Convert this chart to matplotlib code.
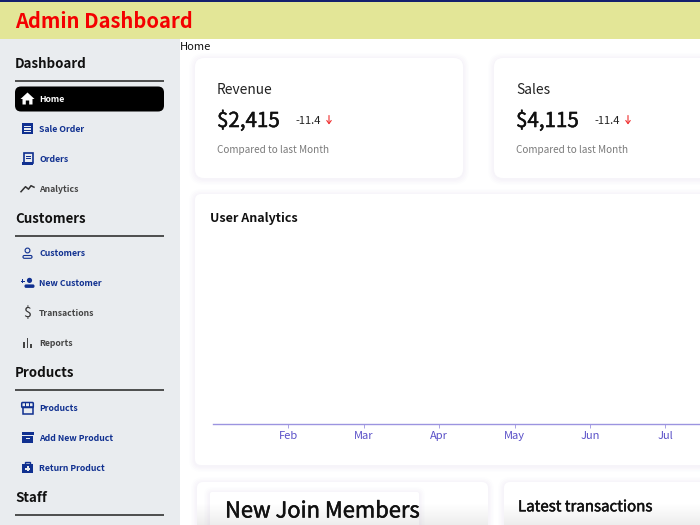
import matplotlib
matplotlib.use("Agg")
import matplotlib.pyplot as plt
import matplotlib.patheffects as pe
from matplotlib.patches import FancyBboxPatch, Rectangle, Polygon, Circle

months = ["Jan", "Feb", "Mar", "Apr", "May", "Jun", "Jul", "Aug"]
month_pos = [0, 1, 2, 3, 4, 5, 6, 7]
tick_pos = [1, 2, 3, 4, 5, 6]
tick_labels = ["Feb", "Mar", "Apr", "May", "Jun", "Jul"]
nav_groups = [
    ("Dashboard", ["Home", "Sale Order", "Orders", "Analytics"]),
    ("Customers", ["Customers", "New Customer", "Transactions", "Reports"]),
    ("Products", ["Products", "Add New Product", "Return Product"]),
    ("Staff", []),
]
grey_items = ["Analytics", "Transactions", "Reports"]
kpi_titles = ["Revenue", "Sales"]
kpi_values = ["$2,415", "$4,115"]
kpi_delta = ["-11.4", "-11.4"]

plt.rcParams["font.family"] = ["Noto Sans CJK SC", "DejaVu Sans"]
W, H = 700, 525
NAVY = "#103090"
fig = plt.figure(figsize=(7, 5.25), dpi=100, facecolor="white")
bg = fig.add_axes([0, 0, 1, 1])
bg.set_xlim(0, W); bg.set_ylim(H, 0); bg.axis("off")
MED = [pe.withStroke(linewidth=.35, foreground="#111111")]

def rect(x0, y0, x1, y1, c, z=1, a=1):
    bg.add_patch(Rectangle((x0, y0), x1 - x0, y1 - y0, fc=c, ec="none", zorder=z, alpha=a))

def card(x0, y0, x1, y1, r=9, z=2):
    for g, a in ((6, .008), (4.5, .01), (3, .012), (1.5, .014)):
        bg.add_patch(FancyBboxPatch((x0 - g, y0 - g + 1), x1 - x0 + 2 * g, y1 - y0 + 2 * g,
                                    boxstyle=f"round,pad=0,rounding_size={r+g}",
                                    fc="#6a4fa8", ec="none", alpha=a, zorder=z))
    bg.add_patch(FancyBboxPatch((x0, y0), x1 - x0, y1 - y0,
                                boxstyle=f"round,pad=0,rounding_size={r}",
                                fc="white", ec="none", zorder=z + .1))

# header and sidebar
rect(0, 0, W, 39, "#e3e697", 5)
rect(0, 0, W, 1.5, "#14206e", 6)
rect(0, 39, 179.5, H, "#e9ecef", 1)
bg.text(15, 22, "Admin Dashboard", color="#f40000", fontsize=14.5, fontweight="bold",
        va="center", ha="left", zorder=7)
bg.text(180, 46.8, "Home", color="#111111", fontsize=8, va="center", zorder=7)

# cards
card(195, 58, 463, 178)
card(494, 58, 760, 178)
card(195, 194, 760, 465, r=6)
card(197, 482, 488, 560, r=6)
card(504, 482, 760, 560, r=6)
card(210, 492, 419, 560, r=2, z=3)

# bottom fade
for i in range(22):
    rect(197, 503 + i, 488, 504 + i, "#808080", 4, .0065 * i)
    rect(504, 503 + i, 700, 504 + i, "#808080", 4, .0065 * i)

# KPI text
for x, t, v, d in zip((217, 516), kpi_titles, kpi_values, kpi_delta):
    bg.text(x, 90.3, t, fontsize=9.9, color="#222222", va="center", zorder=8)
    bg.text(x, 121, v, fontsize=14.8, color="#111111", va="center", zorder=8, path_effects=MED)
    bg.text(x + 78, 120.5, d, fontsize=8, color="#222222", va="center", zorder=8)
    bg.annotate("", xy=(x + 112, 124.5), xytext=(x + 112, 115.5), zorder=8,
                arrowprops=dict(arrowstyle="->,head_width=.16,head_length=.22", color="#f03030",
                                lw=.8, shrinkA=0, shrinkB=0))
    bg.text(x, 150.3, "Compared to last Month", fontsize=7.2, color="#7a7a7a", va="center", zorder=8)

bg.text(209.5, 218.8, "User Analytics", fontsize=9, fontweight="bold", color="#111111", va="center", zorder=8)
bg.text(225, 511.5, "New Join Members", fontsize=15.8, color="#111111", va="center", zorder=8, path_effects=MED)
bg.text(518, 506.8, "Latest transactions", fontsize=10.85, color="#111111", va="center", zorder=8, path_effects=MED)

# chart axis (no series drawn in the visible part)
ax = fig.add_axes([213 / W, 1 - 424.2 / H, (75.4 * 7) / W, 190 / H], zorder=6)
ax.patch.set_alpha(0)
ax.set_xlim(month_pos[0], month_pos[-1])
ax.set_ylim(0, 1)
for s in ("top", "left", "right"):
    ax.spines[s].set_visible(False)
ax.spines["bottom"].set_color("#9c94e0")
ax.spines["bottom"].set_linewidth(1)
ax.set_yticks([])
ax.set_xticks(tick_pos, tick_labels, fontsize=8, color="#5a50c8")
ax.tick_params(axis="x", length=3, width=.6, color="#9c94e0", pad=2)

# icons
def icon(name, cx, cy, c):
    if name == "Home":
        bg.add_patch(Polygon([(cx-7, cy), (cx, cy-6.5), (cx+7, cy), (cx+5, cy), (cx+5, cy+5.5),
                              (cx+1.7, cy+5.5), (cx+1.7, cy+1.5), (cx-1.7, cy+1.5), (cx-1.7, cy+5.5),
                              (cx-5, cy+5.5), (cx-5, cy)], fc="white", ec="none", zorder=9))
    elif name == "Sale Order":
        rect(cx-5.5, cy-5.5, cx+5.5, cy+5.5, c, 9)
        for dy in (-2.8, 0, 2.8):
            rect(cx-3.5, cy+dy-.6, cx+3.5, cy+dy+.6, "#e9ecef", 9.1)
    elif name == "Orders":
        bg.add_patch(Rectangle((cx-3.5, cy-6), 8.5, 10, fc="none", ec=c, lw=1.2, zorder=9))
        rect(cx-1.5, cy-3, cx+3, cy-2, c, 9); rect(cx-1.5, cy-.5, cx+3, cy+.5, c, 9)
        rect(cx-5.5, cy+3.5, cx+5, cy+6, c, 9)
    elif name == "Analytics":
        bg.plot([cx-6.5, cx-2, cx+1, cx+3.5, cx+6.5], [cy+3, cy-2, cy+.5, cy-3, cy-1.5],
                color="#333333", lw=1.1, zorder=9)
    elif name == "Customers":
        bg.add_patch(Circle((cx, cy-3), 2.4, fc="none", ec=c, lw=.8, zorder=9))
        bg.add_patch(FancyBboxPatch((cx-4.5, cy+2), 9, 2.8, boxstyle="round,pad=0,rounding_size=1.3",
                                    fc="none", ec=c, lw=.8, zorder=9))
    elif name == "New Customer":
        bg.add_patch(Circle((cx+2, cy-3), 2.6, fc=c, ec="none", zorder=9))
        bg.add_patch(FancyBboxPatch((cx-3, cy+1), 10, 3.5, boxstyle="round,pad=0,rounding_size=1.5",
                                    fc=c, ec="none", zorder=9))
        rect(cx-7, cy-2.5, cx-3, cy-1.6, c, 9); rect(cx-5.5, cy-4, cx-4.6, cy, c, 9)
    elif name == "Transactions":
        bg.text(cx, cy, "$", fontsize=10, color="#333333", ha="center", va="center", zorder=9)
    elif name == "Reports":
        for dx, h in ((-3.5, 6), (0, 10), (3.5, 4)):
            rect(cx+dx-.8, cy+5-h, cx+dx+.8, cy+5, "#444444", 9)
    elif name == "Products":
        bg.add_patch(Rectangle((cx-5, cy-1), 10, 6.5, fc="none", ec=c, lw=1.1, zorder=9))
        bg.add_patch(FancyBboxPatch((cx-5.8, cy-5.5), 11.6, 5, boxstyle="round,pad=0,rounding_size=1",
                                    fc="none", ec=c, lw=1.1, zorder=9))
        for dx in (-2, 2):
            rect(cx+dx-.4, cy-5.5, cx+dx+.4, cy-.5, c, 9)
    elif name == "Add New Product":
        rect(cx-6, cy-5.5, cx+6, cy-2.8, c, 9)
        rect(cx-5.5, cy-2, cx+5.5, cy+5.5, c, 9)
        rect(cx-2, cy, cx+2, cy+1, "#e9ecef", 9.1)
    elif name == "Return Product":
        rect(cx-5.5, cy-4, cx+5.5, cy+5.5, c, 9)
        bg.add_patch(Rectangle((cx-2.5, cy-6), 5, 2.5, fc="none", ec=c, lw=1, zorder=9))
        rect(cx-2.5, cy-.3, cx+2.5, cy+1.7, "#e9ecef", 9.1)
        rect(cx-1, cy-1.8, cx+1, cy+3.2, "#e9ecef", 9.1)

# sidebar nav
heading_y = [64, 218.8, 373.3, 497.8]
rule_y = [80.5, 235.5, 389.5, 514.5]
item_start = [99, 253.5, 408]
for gi, (head, items) in enumerate(nav_groups):
    bg.text(15, heading_y[gi], head, fontsize=9.6, fontweight="bold", color="#111111", va="center", zorder=8)
    bg.plot([15, 164], [rule_y[gi]] * 2, color="#222222", lw=1.1, zorder=8, solid_capstyle="butt")
    for i, item in enumerate(items):
        y = item_start[gi] + 29.9 * i
        if item == "Home":
            bg.add_patch(FancyBboxPatch((15, y-12.5), 149, 25, boxstyle="round,pad=0,rounding_size=6",
                                        fc="black", ec="none", zorder=8))
        col = "white" if item == "Home" else ("#444444" if item in grey_items else NAVY)
        icon(item, 27.5, y, NAVY)
        bg.text(39, y + .5, item, fontsize=6.25, fontweight="bold", color=col, va="center", zorder=9)

fig.savefig("out.png", dpi=100, facecolor="white")
